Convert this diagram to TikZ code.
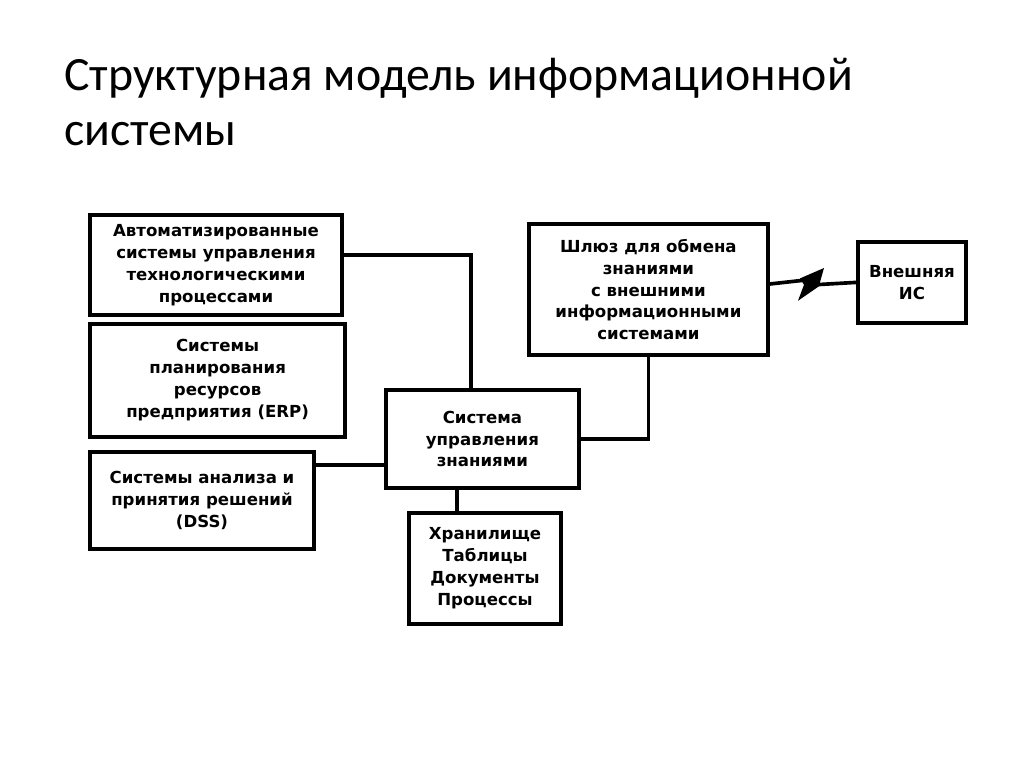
\documentclass[tikz,border=0pt]{standalone}
\usepackage{fontspec}
\setmainfont{Carlito}
\newfontfamily\boxfont{DejaVu Sans}
\begin{document}
\begin{tikzpicture}[
  blok/.style={draw,line width=2.6pt,align=center,inner sep=2pt,
    font=\boxfont\bfseries\fontsize{11.8}{15.6}\selectfont},
  svyaz/.style={line width=2.6pt}]
\useasboundingbox (0,0) rectangle (25.6,-19.2);
\node[anchor=north west,align=left,inner sep=0pt,font=\fontsize{34}{39}\selectfont] (title) at (1.6,-1.45)
  {Структурная модель информационной\\системы};
\node[blok,minimum width=6.3cm,minimum height=2.5cm] (asu) at (5.4,-6.625)
  {Автоматизированные\\системы управления\\технологическими\\процессами};
\node[blok,minimum width=6.375cm,minimum height=2.825cm] (erp) at (5.44,-9.51)
  {Системы\\планирования\\ресурсов\\предприятия (ERP)};
\node[blok,minimum width=5.6cm,minimum height=2.425cm] (dss) at (5.05,-12.51)
  {Системы анализа и\\принятия решений\\(DSS)};
\node[blok,minimum width=4.825cm,minimum height=2.45cm] (suz) at (12.06,-10.975)
  {Система\\управления\\знаниями};
\node[blok,minimum width=3.8cm,minimum height=2.775cm] (hran) at (12.125,-14.21)
  {Хранилище\\Таблицы\\Документы\\Процессы};
\node[blok,minimum width=5.975cm,minimum height=3.275cm] (shluz) at (16.21,-7.24)
  {Шлюз для обмена\\знаниями\\с внешними\\информационными\\системами};
\node[blok,minimum width=2.7cm,minimum height=2.025cm] (ext) at (22.8,-7.06)
  {Внешняя\\ИС};
%connections
\coordinate (asuout) at ([yshift=0.25cm]asu.east);
\coordinate (suzin) at ([xshift=-0.29cm]suz.north);
\draw[svyaz] (asuout) -| (suzin);
\coordinate (dssout) at ([yshift=0.89cm]dss.east);
\draw[svyaz] (dssout) -- (dssout -| suz.west);
\draw[svyaz] (suz.east) -| (shluz.south);
\coordinate (suzdown) at ([xshift=-0.64cm]suz.south);
\draw[svyaz] (suzdown) -- (suzdown |- hran.north);
%lightning
\coordinate (shluzout) at ([yshift=0.14cm]shluz.east);
\coordinate (b1) at (20.0,-6.96);
\coordinate (b2) at (20.6,-6.7);
\coordinate (b3) at (20.47,-7.16);
\coordinate (b4) at (19.95,-7.52);
\coordinate (b5) at (20.1,-7.12);
\draw[svyaz] (shluzout) -- (20.15,-7.0);
\fill[line join=round] (b1) -- (b2) -- (b3) -- (b4) -- (b5) -- cycle;
\draw[svyaz] (20.35,-7.12) -- (ext.west);
\end{tikzpicture}
\end{document}
